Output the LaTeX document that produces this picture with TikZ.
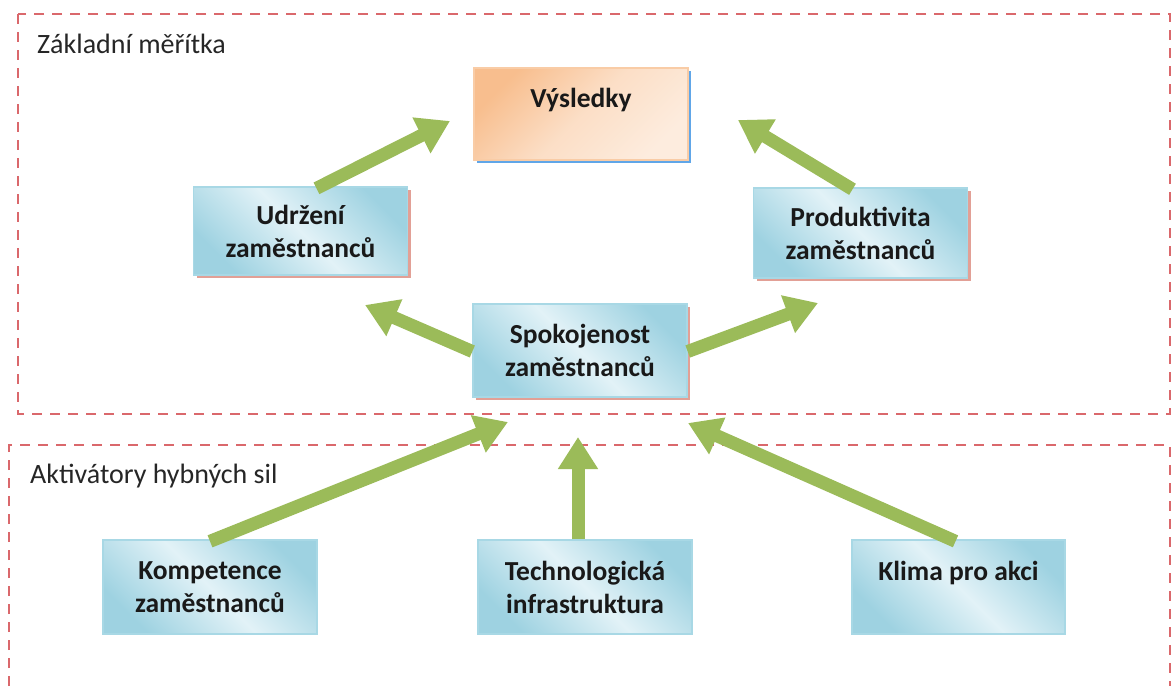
\documentclass[tikz,border=0pt]{standalone}
\usepackage{fontspec}
\setmainfont{Carlito}
\usetikzlibrary{arrows.meta,shadows}

\definecolor{frameRed}{RGB}{218,104,108}
\definecolor{arrGreen}{RGB}{155,187,89}
\definecolor{blueDark}{RGB}{158,210,225}
\definecolor{blueLight}{RGB}{226,242,247}
\definecolor{blueEdge}{RGB}{168,216,229}
\definecolor{salmon}{RGB}{226,160,150}
\definecolor{orangeDark}{RGB}{248,190,142}
\definecolor{orangeLight}{RGB}{253,236,222}
\definecolor{orangeEdge}{RGB}{249,204,166}
\definecolor{skyShadow}{RGB}{96,166,232}
\definecolor{labelGray}{RGB}{38,38,38}

\begin{document}
\begin{tikzpicture}[x=1pt,y=-1pt,
  frame/.style={draw=frameRed, line width=2.6pt, dash pattern=on 10pt off 8pt},
  grouplabel/.style={anchor=west, inner sep=0pt, text=labelGray,
    font=\fontsize{28}{33}\selectfont},
  bluebox/.style={rectangle, draw=blueEdge, line width=1.4pt,
    top color=blueDark, bottom color=blueDark, middle color=blueLight,
    shading angle=-45, minimum width=214pt, minimum height=94pt,
    inner sep=0pt, align=center, text=black!90,
    font=\fontsize{27.5}{33}\selectfont\bfseries},
  shadowbox/.style={bluebox,
    drop shadow={shadow xshift=3pt, shadow yshift=-3pt, fill=salmon, opacity=1}},
  resultbox/.style={bluebox, draw=orangeEdge,
    top color=orangeDark, bottom color=orangeLight, middle color=orangeLight!70!orangeDark,
    shading angle=45,
    drop shadow={shadow xshift=3pt, shadow yshift=-3pt, fill=skyShadow, opacity=1}},
  arr/.style={draw=arrGreen, line width=13pt,
    -{Triangle[width=38pt,length=32pt,fill=arrGreen]}}
]
\useasboundingbox (0,0) rectangle (1172,686);

% group frames
\draw[frame] (18,14) rectangle (1170,414);
\draw[frame] (9,686) -- (9,445) -- (1170,445) -- (1170,686);
\node[grouplabel] (lblTop) at (37,44) {Základní měřítka};
\node[grouplabel] (lblBottom) at (30,476) {Aktivátory hybných sil};

% upper group
\node[resultbox, minimum height=92pt] (vys) at (581,114) {Výsledky\\~};
\node[shadowbox, minimum height=88pt] (udr) at (300.5,231) {Udržení\\zaměstnanců};
\node[shadowbox, minimum height=90pt] (prod) at (860.5,233) {Produktivita\\zaměstnanců};
\node[shadowbox, minimum height=93pt] (spok) at (580,350.5) {Spokojenost\\zaměstnanců};

% lower group
\node[bluebox] (komp) at (210,587) {Kompetence\\zaměstnanců};
\node[bluebox] (tech) at (585,587) {Technologická\\infrastruktura};
\node[bluebox, minimum width=213pt] (klima) at (958.5,587) {Klima pro akci\\~};

% arrow tips
\coordinate (tipVysL) at (450,121);
\coordinate (tipVysR) at (738,120);
\coordinate (tipUdr) at (365,305);
\coordinate (tipProd) at (818,303);
\coordinate (tipSpokL) at (508,422);
\coordinate (tipSpokM) at (578,437);
\coordinate (tipSpokR) at (688,423);

% connectors
\draw[arr] ([xshift=16pt,yshift=-2pt]udr.north) -- (tipVysL);
\draw[arr] ([xshift=-8pt,yshift=-2pt]prod.north) -- (tipVysR);
\draw[arr] ([yshift=-1pt]spok.west) -- (tipUdr);
\draw[arr] ([yshift=-1pt]spok.east) -- (tipProd);
\draw[arr] ([yshift=-2pt]komp.north) -- (tipSpokL);
\draw[arr] ([xshift=-7pt]tech.north) -- (tipSpokM);
\draw[arr] ([xshift=-3pt,yshift=-2pt]klima.north) -- (tipSpokR);
\end{tikzpicture}
\end{document}
